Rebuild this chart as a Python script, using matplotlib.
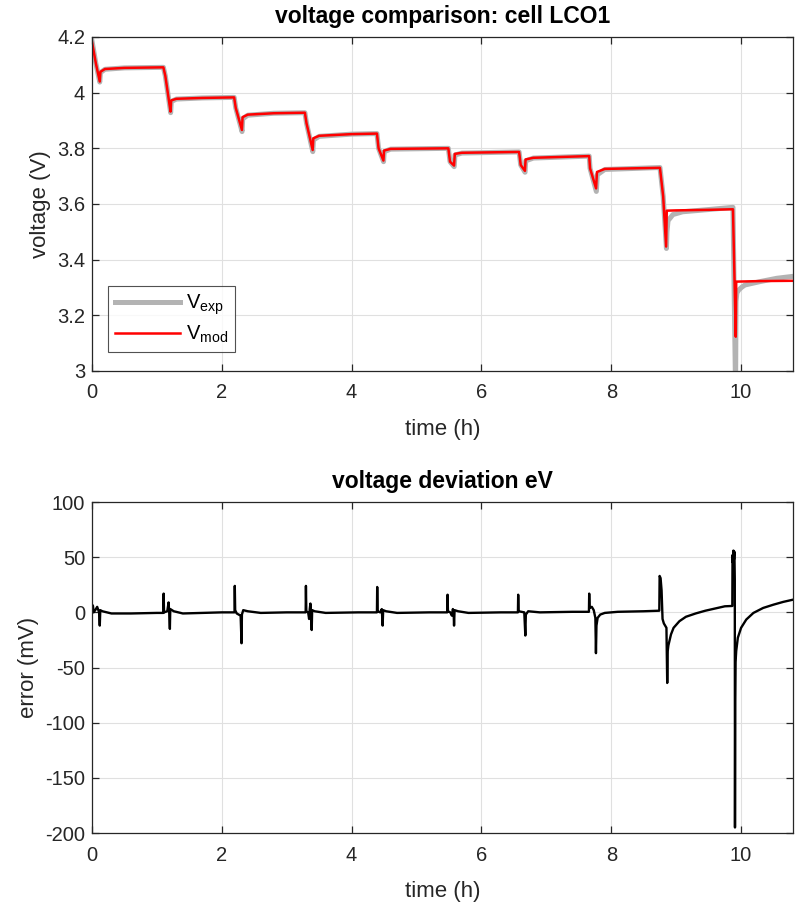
import matplotlib
matplotlib.use("Agg")
import matplotlib.pyplot as plt

# ---------------- data ----------------
# model voltage (V) vs time (h)
t_mod = [0.000, 0.060, 0.120, 0.130, 0.200, 0.500, 1.100, 1.130, 1.210, 1.220, 1.300, 1.700,
         2.190, 2.215, 2.310, 2.320, 2.400, 2.800, 3.280, 3.305, 3.400, 3.410, 3.500, 4.000,
         4.390, 4.415, 4.490, 4.500, 4.600, 5.490, 5.516, 5.578, 5.590, 5.700, 6.580, 6.605,
         6.670, 6.680, 6.800, 7.660, 7.673, 7.766, 7.780, 7.900, 8.750, 8.800, 8.845, 8.855,
         9.000, 9.500, 9.875, 9.918, 9.925, 10.300, 10.800]
v_mod = [4.183, 4.105, 4.040, 4.075, 4.085, 4.089, 4.091, 4.060, 3.932, 3.972, 3.978, 3.981,
         3.983, 3.945, 3.866, 3.912, 3.921, 3.926, 3.928, 3.890, 3.794, 3.836, 3.845, 3.851,
         3.853, 3.800, 3.756, 3.792, 3.798, 3.800, 3.752, 3.738, 3.780, 3.784, 3.787, 3.740,
         3.719, 3.760, 3.766, 3.772, 3.728, 3.656, 3.715, 3.726, 3.730, 3.627, 3.447, 3.576,
         3.577, 3.579, 3.581, 3.123, 3.321, 3.323, 3.324]

# experimental voltage (V) vs time (h)
t_exp = [0.000, 0.060, 0.120, 0.130, 0.200, 0.500, 1.100, 1.130, 1.212, 1.222, 1.300, 1.700,
         2.190, 2.215, 2.312, 2.322, 2.400, 2.800, 3.280, 3.305, 3.402, 3.412, 3.500, 4.000,
         4.390, 4.415, 4.492, 4.502, 4.600, 5.490, 5.516, 5.580, 5.592, 5.700, 6.580, 6.605,
         6.672, 6.682, 6.800, 7.660, 7.673, 7.770, 7.785, 7.900, 8.750, 8.800, 8.850, 8.858,
         8.875, 8.950, 9.100, 9.500, 9.875, 9.915, 9.922, 9.935, 9.960, 10.010, 10.060, 10.290,
         10.550, 10.800]
v_exp = [4.186, 4.105, 4.038, 4.072, 4.084, 4.089, 4.091, 4.060, 3.928, 3.968, 3.977, 3.981,
         3.983, 3.945, 3.860, 3.906, 3.919, 3.926, 3.928, 3.890, 3.788, 3.830, 3.843, 3.851,
         3.853, 3.800, 3.752, 3.788, 3.797, 3.800, 3.752, 3.734, 3.776, 3.783, 3.787, 3.740,
         3.714, 3.755, 3.765, 3.772, 3.728, 3.645, 3.705, 3.724, 3.731, 3.627, 3.440, 3.500,
         3.540, 3.562, 3.572, 3.580, 3.588, 2.930, 3.250, 3.280, 3.290, 3.301, 3.309, 3.321,
         3.333, 3.340]

# voltage deviation (mV) vs time (h)
t_err = [0.000, 0.015, 0.025, 0.050, 0.080, 0.110, 0.120, 0.128, 0.160, 0.300, 0.600, 1.000,
         1.100, 1.104, 1.110, 1.160, 1.180, 1.190, 1.200, 1.206, 1.260, 1.400, 2.000,
         2.196, 2.200, 2.206, 2.230, 2.290, 2.304, 2.310, 2.330, 2.400, 2.600, 3.000,
         3.292, 3.296, 3.302, 3.330, 3.345, 3.355, 3.365, 3.378, 3.385, 3.392, 3.430, 3.600, 4.100,
         4.390, 4.394, 4.400, 4.440, 4.465, 4.478, 4.486, 4.530, 4.700, 5.200,
         5.474, 5.478, 5.484, 5.520, 5.545, 5.560, 5.572, 5.578, 5.586, 5.640, 5.800, 6.300,
         6.562, 6.566, 6.572, 6.620, 6.660, 6.676, 6.684, 6.720, 6.900, 7.400,
         7.656, 7.660, 7.666, 7.700, 7.730, 7.755, 7.764, 7.772, 7.790, 7.830, 7.900, 8.100,
         8.500, 8.740,
         8.745, 8.760, 8.775, 8.790, 8.810, 8.850, 8.862, 8.870, 8.880, 8.920, 8.960, 9.050,
         9.150, 9.300, 9.450, 9.600, 9.750, 9.865,
         9.868, 9.875, 9.882, 9.890, 9.897, 9.903, 9.906, 9.910, 9.915, 9.925, 9.950, 10.000,
         10.080, 10.190, 10.340, 10.500, 10.650, 10.800]
e_err = [7, 6, 0, 2, 5, 0, -12, 2, 1, -1, -1, -0.5,
         -0.5, 17, 0, 1, 9, 0, -15, 3, 1, -1, 0,
         0, 24, 2, -1, -3, -28, -2, 2, 1, -0.5, 0,
         0, 24, 1, 0, -6, 3, 8, -2, -16, 2, 1, -0.5, 0,
         0, 23, 1, 0, 3, -12, 2, 1, -0.5, 0,
         0, 16, 1, 0, -3, 3, -1, -12, 2, 1, -0.5, 0,
         0, 16, 1, 0.5, 0, -21, -2, 1, 0, 0.5,
         0.5, 17, 4, 5, 2, -5, -37, -12, -5, -2, -0.5, 0.5,
         1, 1.5,
         33, 31, 20, -6, -10, -14, -64, -35, -30, -20, -14, -8,
         -4, -1, 1.5, 3.5, 5.5, 5.8,
         52, 45, 56, 48, 55, 30, -195, -80, -45, -35, -23, -14,
         -6.5, -0.5, 4, 7, 9.5, 11.5]

top_yticks = [3.0, 3.2, 3.4, 3.6, 3.8, 4.0, 4.2]
top_yticklabels = ["3", "3.2", "3.4", "3.6", "3.8", "4", "4.2"]
bot_yticks = [-200, -150, -100, -50, 0, 50, 100]
bot_yticklabels = ["-200", "-150", "-100", "-50", "0", "50", "100"]
xticks = [0, 2, 4, 6, 8, 10]

# ---------------- style ----------------
plt.rcParams['font.family'] = ['Liberation Sans', 'DejaVu Sans']
plt.rcParams['mathtext.default'] = 'regular'
plt.rcParams['mathtext.fontset'] = 'custom'
plt.rcParams['mathtext.rm'] = 'Liberation Sans'
AXC = '#262626'
GRIDC = '#e0e0e0'
TICK_FS = 14.5
LAB_FS = 16
TIT_FS = 16.5

fig = plt.figure(figsize=(7.95, 9.09), dpi=100)
ax1 = fig.add_axes([0.1157, 0.5919, 0.8818, 0.3674])
ax2 = fig.add_axes([0.1157, 0.0836, 0.8818, 0.3641])


def style(ax):
    ax.set_xlim(0, 10.8)
    ax.set_xticks(xticks)
    ax.grid(True, color=GRIDC, linewidth=0.8)
    ax.set_axisbelow(True)
    for s in ax.spines.values():
        s.set_color(AXC)
        s.set_linewidth(0.9)
    ax.tick_params(direction='in', length=5, width=0.9, colors=AXC, labelsize=TICK_FS,
                   top=True, right=True, labelcolor=AXC)
    ax.tick_params(axis='x', pad=9)
    ax.tick_params(axis='y', pad=5)


ax1.plot(t_exp, v_exp, color='#b3b3b3', linewidth=3.6, label=r'V$_{exp}$',
         solid_joinstyle='round')
ax1.plot(t_mod, v_mod, color='#ff0000', linewidth=1.8, label=r'V$_{mod}$')
style(ax1)
ax1.set_ylim(3.0, 4.2)
ax1.set_yticks(top_yticks)
ax1.set_yticklabels(top_yticklabels)
ax1.set_xlabel('time (h)', fontsize=LAB_FS, color=AXC, labelpad=12)
ax1.set_ylabel('voltage (V)', fontsize=LAB_FS, color=AXC, labelpad=4)
ax1.set_title('voltage comparison: cell LCO1', fontsize=TIT_FS, fontweight='bold', pad=10)
leg = ax1.legend(loc='lower left', bbox_to_anchor=(0.023, 0.057), borderaxespad=0,
                 fontsize=TICK_FS, frameon=True, fancybox=False, handlelength=3.2,
                 labelspacing=0.32, borderpad=0.35, handletextpad=0.3)
leg.get_frame().set_edgecolor(AXC)
leg.get_frame().set_linewidth(0.8)

ax2.plot(t_err, e_err, color='black', linewidth=1.7)
style(ax2)
ax2.set_ylim(-200, 100)
ax2.set_yticks(bot_yticks)
ax2.set_yticklabels(bot_yticklabels)
ax2.set_xlabel('time (h)', fontsize=LAB_FS, color=AXC, labelpad=12)
ax2.set_ylabel('error (mV)', fontsize=LAB_FS, color=AXC, labelpad=4)
ax2.set_title('voltage deviation eV', fontsize=TIT_FS, fontweight='bold', pad=10)

fig.savefig('out.png', dpi=100)
